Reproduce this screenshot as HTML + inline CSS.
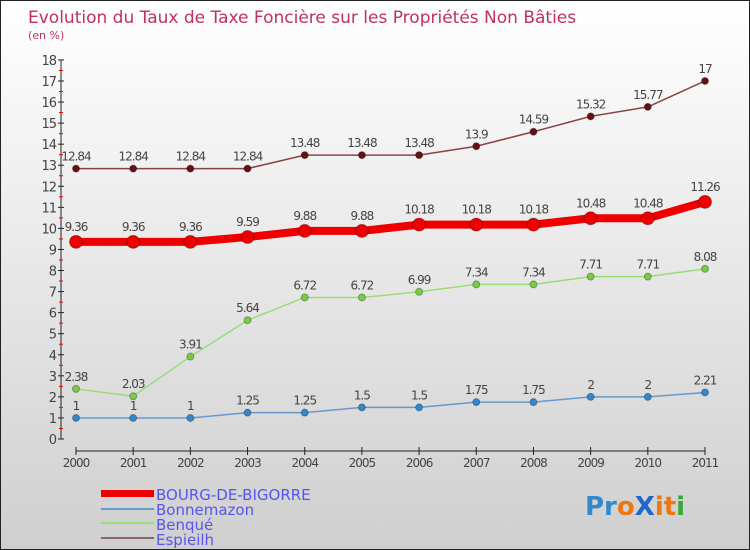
<!DOCTYPE html>
<html><head><meta charset="utf-8"><style>
body{margin:0}
#c{width:748px;height:548px;border:1px solid #222;background:linear-gradient(#ffffff,#cfcfcf);position:relative;font-family:"DejaVu Sans","Liberation Sans",sans-serif;overflow:hidden}
svg text{font-family:"DejaVu Sans","Liberation Sans",sans-serif}
</style></head><body>
<div id="c">
<svg id="s" width="748" height="548">
<text x="27" y="22" font-size="17" fill="#c03060">Evolution du Taux de Taxe Foncière sur les Propriétés Non Bâties</text>
<text x="27" y="38" font-size="11" fill="#c03060">(en %)</text>
<g id="axes"></g><g id="series"></g>
<g font-size="15" fill="#5555ee">
<rect x="100" y="489" width="53" height="7" fill="#ee0000"/>
<text x="155" y="499">BOURG-DE-BIGORRE</text>
<rect x="100" y="507" width="53" height="2" fill="#6699cc"/>
<text x="155" y="514">Bonnemazon</text>
<rect x="100" y="521" width="53" height="2" fill="#99dd77"/>
<text x="155" y="529">Benqué</text>
<rect x="100" y="536" width="53" height="2" fill="#886666"/>
<text x="155" y="544">Espieilh</text>
</g>
<g font-size="26" font-weight="bold">
<text x="584" y="514"><tspan fill="#3388cc">Pr</tspan><tspan fill="#ee7711">o</tspan><tspan fill="#2266cc">X</tspan><tspan fill="#ee7711">it</tspan><tspan fill="#33aa33">i</tspan></text>
</g>
</svg></div>
<script>
const years=[2000,2001,2002,2003,2004,2005,2006,2007,2008,2009,2010,2011];
const bourg=[9.36,9.36,9.36,9.59,9.88,9.88,10.18,10.18,10.18,10.48,10.48,11.26];
const bonnemazon=[1,1,1,1.25,1.25,1.5,1.5,1.75,1.75,2,2,2.21];
const benque=[2.38,2.03,3.91,5.64,6.72,6.72,6.99,7.34,7.34,7.71,7.71,8.08];
const espieilh=[12.84,12.84,12.84,12.84,13.48,13.48,13.48,13.9,14.59,15.32,15.77,17];
const yTicks=[0,1,2,3,4,5,6,7,8,9,10,11,12,13,14,15,16,17,18];
const NS="http://www.w3.org/2000/svg";
const X=i=>75+i*(629/(years.length-1));
const Y=v=>438-v*21.06;
function mk(t,a,p){const e=document.createElementNS(NS,t);for(const k in a)e.setAttribute(k,a[k]);p.appendChild(e);return e;}
const ax=document.getElementById('axes');
let yl=mk('line',{x1:60,y1:Y(18),x2:60,y2:Y(0),stroke:'#222'},ax);


yTicks.forEach(v=>{
 mk('line',{x1:57,y1:Y(v),x2:63,y2:Y(v),stroke:'#222'},ax);
 if(v<18)mk('line',{x1:58,y1:Y(v+0.5),x2:62,y2:Y(v+0.5),stroke:'#e00'},ax);
 const t=mk('text',{x:55,y:Y(v)+5,'font-size':13,fill:'#444','text-anchor':'end','letter-spacing':'-1'},ax);
 t.textContent=v;
 
 
});
let xl=mk('line',{x1:X(0),y1:450,x2:X(years.length-1),y2:450,stroke:'#222'},ax);


years.forEach((y,i)=>{
 mk('line',{x1:X(i),y1:446,x2:X(i),y2:454,stroke:'#222'},ax);
 const t=mk('text',{x:X(i),y:466,'font-size':12,fill:'#444','text-anchor':'middle','letter-spacing':'-1'},ax);
 t.textContent=y;
 
 
});
const sg=document.getElementById('series');
function series(name,data,color,dot,w,r){
 const g=mk('g',{},sg);
 
 
 const p=mk('polyline',{points:data.map((v,i)=>X(i)+','+Y(v)).join(' '),fill:'none',stroke:color,'stroke-width':w},g);
 
 
 data.forEach((v,i)=>{
  const c=mk('circle',{cx:X(i),cy:Y(v),r:r,fill:dot,stroke:'rgba(0,0,0,0.3)','stroke-width':1},g);
  
  
  const t=mk('text',{x:X(i),y:Y(v)-8-(r>4?3:0),'font-size':12,fill:'#444','text-anchor':'middle','letter-spacing':'-1'},g);
  t.textContent=String(v).replace('.','.');
  
  
 });
}
series('espieilh',espieilh,'#884444','#661111',1.5,3.5);
series('benque',benque,'#99dd77','#77cc44',1.5,3.5);
series('bonnemazon',bonnemazon,'#6699cc','#3388cc',1.5,3.5);
series('bourg',bourg,'#ee0000','#ee0000',8,6.5);
</script>
</body></html>
